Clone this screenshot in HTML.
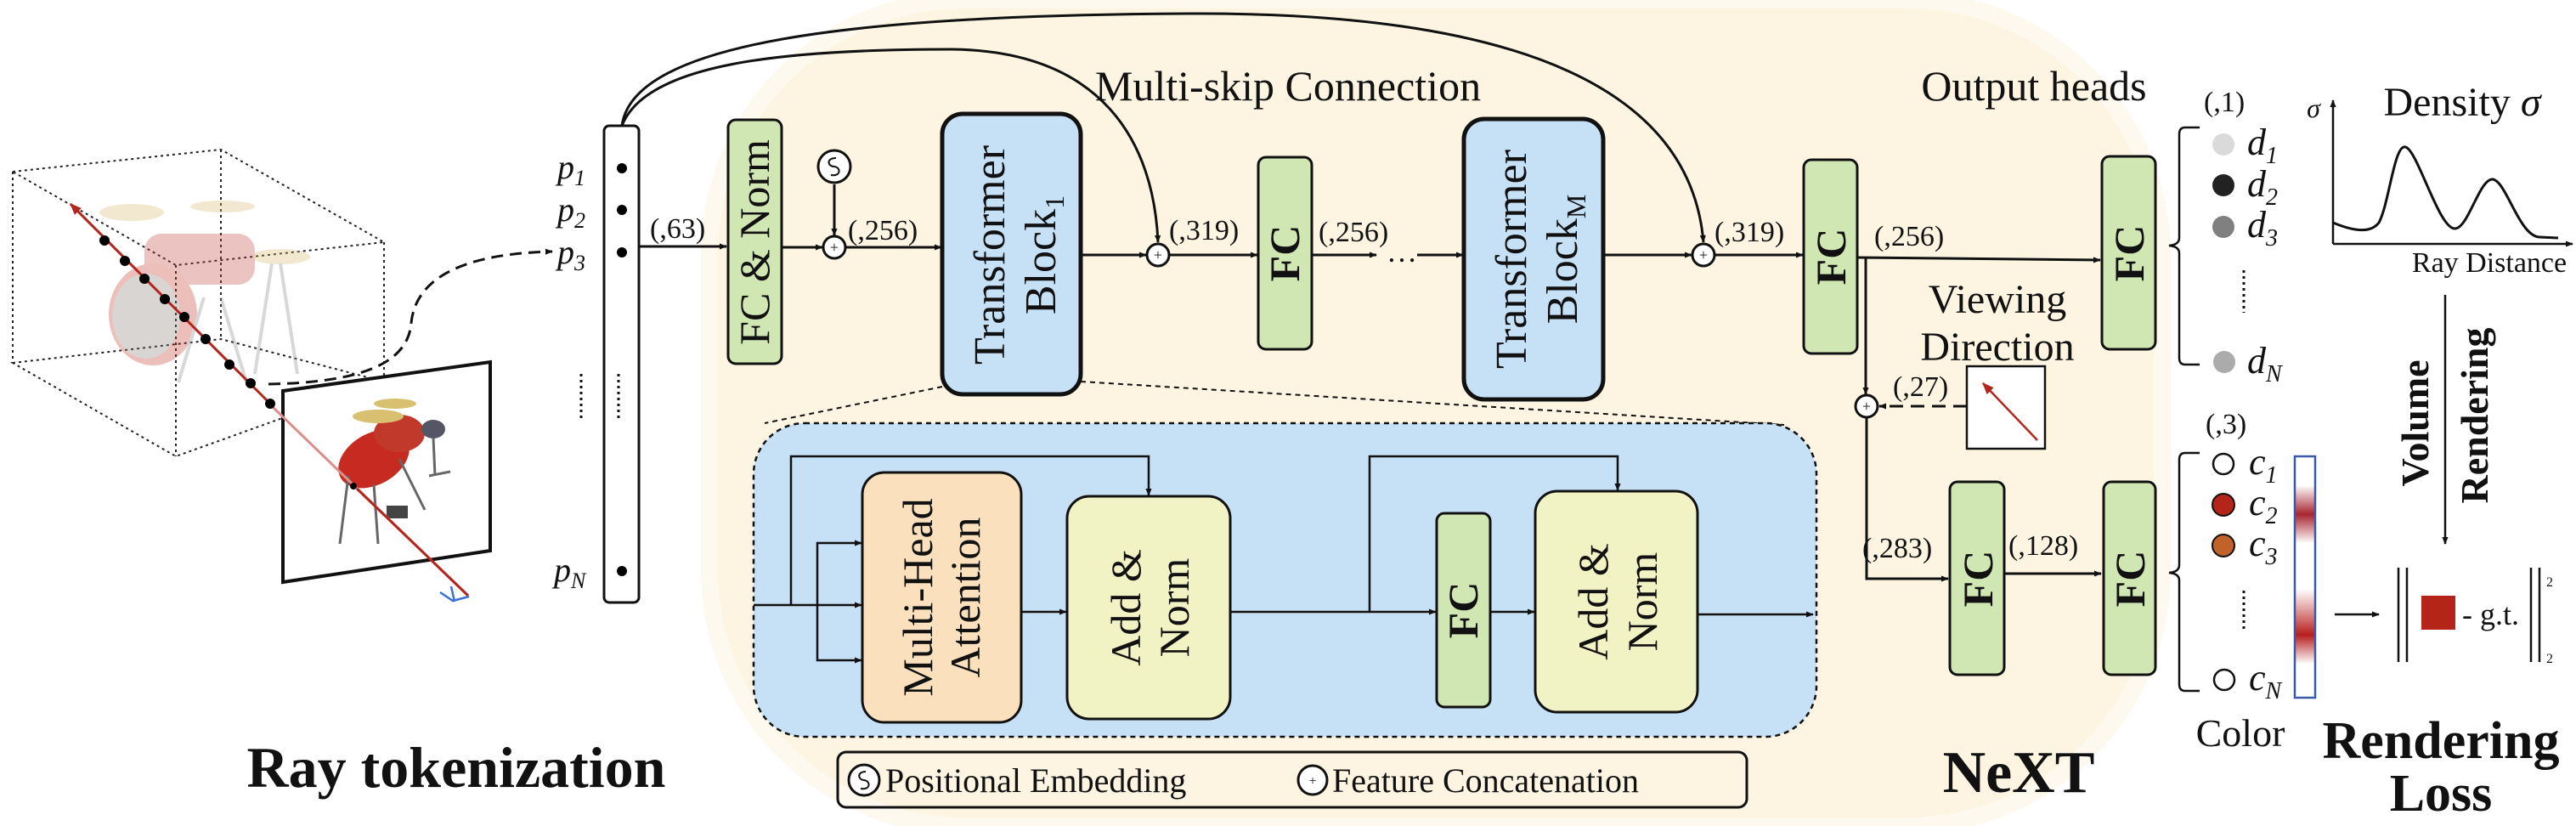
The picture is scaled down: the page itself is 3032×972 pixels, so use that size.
<!DOCTYPE html>
<html><head><meta charset="utf-8"><style>
html,body{margin:0;padding:0;background:#fff;overflow:hidden;width:3032px;height:972px;}
svg{display:block;}
text{font-family:"Liberation Serif",serif;fill:#111;}
.b{font-weight:bold;}
</style></head><body>
<svg width="3032" height="972" viewBox="0 0 3032 972" xmlns="http://www.w3.org/2000/svg">
<defs>
<marker id="ar" viewBox="0 0 10 10" refX="9" refY="5" markerWidth="9" markerHeight="9" orient="auto" markerUnits="userSpaceOnUse"><path d="M0,1 L10,5 L0,9 z" fill="#111"/></marker>
<marker id="arr" viewBox="0 0 10 10" refX="9" refY="5" markerWidth="14" markerHeight="14" orient="auto" markerUnits="userSpaceOnUse"><path d="M0,1 L10,5 L0,9 z" fill="#b3261e"/></marker>
<linearGradient id="cbar" x1="0" y1="0" x2="0" y2="1">
<stop offset="0" stop-color="#fff"/><stop offset="0.12" stop-color="#fff"/><stop offset="0.24" stop-color="#a82430"/><stop offset="0.36" stop-color="#fff"/><stop offset="0.55" stop-color="#fff"/><stop offset="0.62" stop-color="#e8b0b0"/><stop offset="0.74" stop-color="#b81e1e"/><stop offset="0.86" stop-color="#fff"/><stop offset="1" stop-color="#fff"/>
</linearGradient>
</defs>

<rect x="835" y="0" width="1710" height="972" rx="300" fill="#fdf5e2" stroke="#fef9ee" stroke-width="20"/>

<g stroke="#222" stroke-width="2" stroke-dasharray="3,4" fill="none">
<path d="M15,202 L260,176 L452,285 L207,312 Z"/>
<path d="M15,427 L260,399 L452,449 L207,537 Z"/>
<path d="M15,202 L15,427 M260,176 L260,399 M452,285 L452,449 M207,312 L207,537"/>
</g>
<g opacity="0.32">
<ellipse cx="155" cy="250" rx="38" ry="10" fill="#d8b970"/>
<ellipse cx="262" cy="243" rx="38" ry="7" fill="#d8b970"/>
<ellipse cx="330" cy="302" rx="35" ry="9" fill="#d8b970"/>
<rect x="170" y="275" width="130" height="60" rx="20" fill="#c44a40"/>
<ellipse cx="180" cy="370" rx="52" ry="60" fill="#c63a30"/>
<ellipse cx="172" cy="372" rx="40" ry="50" fill="#8a8078"/>
<path d="M240,350 L210,450 M260,350 L290,450 M320,310 L300,440 M330,310 L350,440" stroke="#888" stroke-width="4"/>
</g>
<path d="M333,460 L577,426 L577,648 L333,685 Z" fill="#fff" stroke="#111" stroke-width="4"/>
<g>
<ellipse cx="440" cy="540" rx="45" ry="30" fill="#c62a20" transform="rotate(-30 440 540)"/>
<ellipse cx="470" cy="510" rx="30" ry="22" fill="#c0392b"/>
<ellipse cx="445" cy="490" rx="30" ry="8" fill="#d8c070"/>
<ellipse cx="465" cy="475" rx="25" ry="6" fill="#d8c070"/>
<ellipse cx="510" cy="505" rx="14" ry="11" fill="#556"/>
<path d="M410,560 L400,640 M440,570 L445,640 M470,540 L500,600 M510,515 L512,560 M505,560 L530,555" stroke="#666" stroke-width="3"/>
<rect x="455" y="595" width="25" height="15" fill="#444"/>
</g>
<line x1="551" y1="701" x2="320" y2="478" stroke="#d9908a" stroke-width="3"/>
<line x1="318" y1="475" x2="83" y2="240" stroke="#b3261e" stroke-width="3" marker-end="url(#arr)"/>
<line x1="551" y1="701" x2="420" y2="575" stroke="#b3261e" stroke-width="3"/>
<g fill="#000">
<circle cx="123" cy="283" r="6"/><circle cx="147" cy="307" r="6"/><circle cx="170" cy="328" r="6"/><circle cx="194" cy="352" r="6"/><circle cx="217" cy="373" r="6"/><circle cx="242" cy="399" r="6"/><circle cx="270" cy="429" r="6"/><circle cx="295" cy="451" r="6"/><circle cx="318" cy="475" r="6"/><circle cx="416" cy="572" r="4"/>
</g>
<path d="M518,697 L533,707 L552,702 M531,690 L535,708" stroke="#3a6fd8" stroke-width="2.5" fill="none"/>
<path d="M316,452 C420,450 480,430 484,380 C490,320 560,298 650,296" stroke="#111" stroke-width="3" stroke-dasharray="14,8" fill="none" marker-end="url(#ar)"/>

<rect x="711" y="148" width="41" height="561" rx="6" fill="#fff" stroke="#111" stroke-width="3"/>
<g fill="#000"><circle cx="732" cy="198" r="6"/><circle cx="732" cy="247" r="6"/><circle cx="732" cy="297" r="6"/><circle cx="732" cy="672" r="6"/></g>
<g stroke="#111" stroke-width="3" stroke-dasharray="3,4"><line x1="728" y1="440" x2="728" y2="493"/><line x1="684" y1="440" x2="684" y2="493"/></g>
<g font-style="italic" font-size="40">
<text x="656" y="210">p<tspan font-size="26" dy="8">1</tspan></text>
<text x="656" y="260">p<tspan font-size="26" dy="8">2</tspan></text>
<text x="656" y="310">p<tspan font-size="26" dy="8">3</tspan></text>
<text x="652" y="684">p<tspan font-size="26" dy="8">N</tspan></text>
</g>

<path d="M732,148 C745,50 1000,18 1400,16 C1800,14 1990,110 2005,285" stroke="#111" stroke-width="3" fill="none" marker-end="url(#ar)"/>
<path d="M732,148 C760,75 920,58 1120,58 C1300,60 1358,170 1363,285" stroke="#111" stroke-width="3" fill="none" marker-end="url(#ar)"/>
<text x="1516" y="118" font-size="50" text-anchor="middle">Multi-skip Connection</text>
<text x="2394" y="118" font-size="50" text-anchor="middle">Output heads</text>

<g stroke="#111" stroke-width="3" fill="none" marker-end="url(#ar)">
<line x1="752" y1="290" x2="855" y2="290"/>
<line x1="920" y1="291" x2="968" y2="291"/>
<line x1="982" y1="217" x2="982" y2="277"/>
<line x1="996" y1="291" x2="1108" y2="291"/>
<line x1="1272" y1="300" x2="1349" y2="300"/>
<line x1="1377" y1="300" x2="1480" y2="300"/>
<line x1="1544" y1="300" x2="1620" y2="300"/>
<line x1="1668" y1="300" x2="1722" y2="300"/>
<line x1="1887" y1="300" x2="1991" y2="300"/>
<line x1="2019" y1="300" x2="2122" y2="300"/>
<line x1="2186" y1="303" x2="2472" y2="306"/>
<line x1="2196" y1="303" x2="2196" y2="464"/>
<line x1="2315" y1="478" x2="2212" y2="478" stroke-dasharray="16,9"/>
<line x1="2359" y1="675" x2="2473" y2="675"/>
</g>
<polyline points="2197,492 2197,681 2293,681" stroke="#111" stroke-width="3" fill="none" marker-end="url(#ar)"/>
<text x="1650" y="308" font-size="36" text-anchor="middle">…</text>
<g font-size="34">
<text x="765" y="280">(,63)</text>
<text x="998" y="282">(,256)</text>
<text x="1376" y="282">(,319)</text>
<text x="1552" y="284">(,256)</text>
<text x="2018" y="284">(,319)</text>
<text x="2206" y="289">(,256)</text>
<text x="2228" y="466">(,27)</text>
<text x="2192" y="656">(,283)</text>
<text x="2364" y="653">(,128)</text>
<text x="2594" y="131">(,1)</text>
<text x="2596" y="510">(,3)</text>
</g>

<g stroke="#111" stroke-width="3" fill="#fff">
<circle cx="982" cy="196" r="19"/>
<circle cx="982" cy="291" r="13"/>
<circle cx="1363" cy="300" r="13"/>
<circle cx="2005" cy="300" r="13"/>
<circle cx="2197" cy="478" r="13"/>
</g>
<g font-size="18" text-anchor="middle" font-family="Liberation Sans,sans-serif">
<text x="982" y="297">+</text><text x="1363" y="306">+</text><text x="2005" y="306">+</text><text x="2197" y="484">+</text>
</g>
<path d="M984,186 C972,186 974,196 982,196 C990,197 990,208 978,206" stroke="#111" stroke-width="2" fill="none"/>

<rect x="857" y="141" width="63" height="287" rx="9" fill="#d0e6b3" stroke="#111" stroke-width="3"/>
<text transform="translate(905,285) rotate(-90)" font-size="50" text-anchor="middle">FC &amp; Norm</text>
<rect x="1109" y="134" width="163" height="330" rx="24" fill="#c6e0f6" stroke="#111" stroke-width="5"/>
<text transform="translate(1182,300) rotate(-90)" font-size="52" text-anchor="middle">Transformer</text>
<text transform="translate(1242,300) rotate(-90)" font-size="52" text-anchor="middle">Block<tspan font-size="32" dy="10">1</tspan></text>
<rect x="1723" y="140" width="164" height="330" rx="24" fill="#c6e0f6" stroke="#111" stroke-width="5"/>
<text transform="translate(1796,305) rotate(-90)" font-size="52" text-anchor="middle">Transformer</text>
<text transform="translate(1856,305) rotate(-90)" font-size="52" text-anchor="middle">Block<tspan font-size="32" dy="10">M</tspan></text>
<g fill="#d0e6b3" stroke="#111" stroke-width="3">
<rect x="1481" y="185" width="63" height="226" rx="9"/>
<rect x="2123" y="188" width="63" height="228" rx="9"/>
<rect x="2474" y="184" width="63" height="227" rx="9"/>
<rect x="2295" y="567" width="64" height="227" rx="9"/>
<rect x="2476" y="567" width="61" height="227" rx="9"/>
</g>
<g font-size="50" text-anchor="middle">
<text class="b" transform="translate(1529,298) rotate(-90)">FC</text>
<text class="b" transform="translate(2172,302) rotate(-90)">FC</text>
<text class="b" transform="translate(2523,298) rotate(-90)">FC</text>
<text class="b" transform="translate(2345,681) rotate(-90)">FC</text>
<text class="b" transform="translate(2524,681) rotate(-90)">FC</text>
</g>

<g stroke="#111" stroke-width="2" stroke-dasharray="6,5" fill="none">
<line x1="1109" y1="455" x2="900" y2="498"/>
<line x1="1272" y1="449" x2="2100" y2="500"/>
</g>
<rect x="887" y="498" width="1251" height="369" rx="60" fill="#c6e0f6" stroke="#111" stroke-width="2.5" stroke-dasharray="6,5"/>
<rect x="1015" y="556" width="187" height="294" rx="26" fill="#fbe0bd" stroke="#111" stroke-width="3"/>
<text transform="translate(1097,703) rotate(-90)" font-size="50" text-anchor="middle">Multi-Head</text>
<text transform="translate(1153,703) rotate(-90)" font-size="50" text-anchor="middle">Attention</text>
<rect x="1256" y="584" width="192" height="262" rx="26" fill="#f2f3c4" stroke="#111" stroke-width="3"/>
<text transform="translate(1342,715) rotate(-90)" font-size="50" text-anchor="middle">Add &amp;</text>
<text transform="translate(1399,715) rotate(-90)" font-size="50" text-anchor="middle">Norm</text>
<rect x="1691" y="604" width="63" height="228" rx="9" fill="#d0e6b3" stroke="#111" stroke-width="3"/>
<text class="b" transform="translate(1739,718) rotate(-90)" font-size="50" text-anchor="middle">FC</text>
<rect x="1807" y="578" width="191" height="260" rx="26" fill="#f2f3c4" stroke="#111" stroke-width="3"/>
<text transform="translate(1892,708) rotate(-90)" font-size="50" text-anchor="middle">Add &amp;</text>
<text transform="translate(1950,708) rotate(-90)" font-size="50" text-anchor="middle">Norm</text>
<g stroke="#111" stroke-width="2.5" fill="none" marker-end="url(#ar)">
<line x1="887" y1="712" x2="1014" y2="712"/>
<polyline points="962,712 962,639 1014,639"/>
<polyline points="962,712 962,777 1014,777"/>
<polyline points="931,712 931,537 1352,537 1352,583"/>
<line x1="1202" y1="720" x2="1255" y2="720"/>
<line x1="1448" y1="720" x2="1690" y2="720"/>
<polyline points="1612,720 1612,537 1904,537 1904,577"/>
<line x1="1754" y1="720" x2="1806" y2="720"/>
<line x1="1998" y1="723" x2="2134" y2="723"/>
</g>
<rect x="986" y="885" width="1070" height="65" rx="10" fill="none" stroke="#111" stroke-width="3"/>
<circle cx="1017" cy="918" r="18" stroke="#111" stroke-width="3" fill="#fff"/>
<path d="M1019,908 C1008,908 1010,918 1017,918 C1025,919 1025,930 1013,928" stroke="#111" stroke-width="2" fill="none"/>
<text x="1042" y="932" font-size="40">Positional Embedding</text>
<circle cx="1545" cy="918" r="17" stroke="#111" stroke-width="3" fill="#fff"/>
<text x="1545" y="924" font-size="16" text-anchor="middle" font-family="Liberation Sans,sans-serif">+</text>
<text x="1568" y="932" font-size="40">Feature Concatenation</text>

<text x="2351" y="368" font-size="48" text-anchor="middle">Viewing</text>
<text x="2351" y="424" font-size="48" text-anchor="middle">Direction</text>
<rect x="2315" y="431" width="92" height="97" fill="#fff" stroke="#111" stroke-width="2.5"/>
<line x1="2398" y1="518" x2="2334" y2="451" stroke="#b3261e" stroke-width="2.5" marker-end="url(#arr)"/>

<g stroke="#111" stroke-width="2.5" fill="none">
<path d="M2589,150 L2572,150 Q2565,150 2565,158 L2565,280 Q2565,288 2553,289 Q2565,290 2565,298 L2565,421 Q2565,429 2572,429 L2589,429"/>
<path d="M2589,533 L2572,533 Q2565,533 2565,541 L2565,665 Q2565,673 2553,674 Q2565,675 2565,683 L2565,805 Q2565,813 2572,813 L2589,813"/>
</g>
<circle cx="2617" cy="170" r="13" fill="#dadada"/>
<circle cx="2617" cy="218" r="13" fill="#222"/>
<circle cx="2617" cy="267" r="13" fill="#808080"/>
<circle cx="2618" cy="426" r="13" fill="#ababab"/>
<g font-style="italic" font-size="44">
<text x="2645" y="182">d<tspan font-size="28" dy="10">1</tspan></text>
<text x="2645" y="231">d<tspan font-size="28" dy="10">2</tspan></text>
<text x="2645" y="279">d<tspan font-size="28" dy="10">3</tspan></text>
<text x="2645" y="439">d<tspan font-size="28" dy="10">N</tspan></text>
<text x="2647" y="558">c<tspan font-size="28" dy="10">1</tspan></text>
<text x="2647" y="606">c<tspan font-size="28" dy="10">2</tspan></text>
<text x="2647" y="654">c<tspan font-size="28" dy="10">3</tspan></text>
<text x="2647" y="812">c<tspan font-size="28" dy="10">N</tspan></text>
</g>
<g stroke="#111" stroke-width="3" stroke-dasharray="3,4"><line x1="2641" y1="318" x2="2641" y2="368"/><line x1="2641" y1="695" x2="2641" y2="741"/></g>
<circle cx="2617" cy="546" r="12" fill="#fff" stroke="#111" stroke-width="2.5"/>
<circle cx="2617" cy="594" r="13" fill="#b52419" stroke="#111" stroke-width="2"/>
<circle cx="2617" cy="642" r="13" fill="#c0622a" stroke="#111" stroke-width="2"/>
<circle cx="2618" cy="800" r="12" fill="#fff" stroke="#111" stroke-width="2.5"/>
<rect x="2701" y="537" width="24" height="284" fill="url(#cbar)" stroke="#3a5aa8" stroke-width="2.5"/>
<text x="2637" y="878" font-size="46" text-anchor="middle">Color</text>

<line x1="2746" y1="287" x2="2746" y2="118" stroke="#111" stroke-width="2.5" marker-end="url(#ar)"/>
<line x1="2746" y1="287" x2="3028" y2="287" stroke="#111" stroke-width="2.5" marker-end="url(#ar)"/>
<text x="2723" y="138" font-size="32" font-style="italic" text-anchor="middle">σ</text>
<text x="2898" y="136" font-size="48" text-anchor="middle">Density <tspan font-style="italic">σ</tspan></text>
<path d="M2746,262 C2770,272 2790,275 2800,262 C2812,240 2818,170 2831,173 C2845,175 2870,268 2889,269 C2905,270 2918,210 2934,211 C2950,213 2965,278 2989,279 L3011,280" stroke="#111" stroke-width="3" fill="none"/>
<text x="2930" y="320" font-size="34" text-anchor="middle">Ray Distance</text>

<line x1="2878" y1="347" x2="2878" y2="640" stroke="#111" stroke-width="2.5" marker-end="url(#ar)"/>
<text class="b" transform="translate(2858,498) rotate(-90)" font-size="46" text-anchor="middle">Volume</text>
<text class="b" transform="translate(2928,489) rotate(-90)" font-size="46" text-anchor="middle">Rendering</text>

<line x1="2748" y1="723" x2="2800" y2="723" stroke="#111" stroke-width="2.5" marker-end="url(#ar)"/>
<g stroke="#111" stroke-width="2.5"><line x1="2823" y1="668" x2="2823" y2="779"/><line x1="2833" y1="668" x2="2833" y2="779"/><line x1="2979" y1="668" x2="2979" y2="779"/><line x1="2989" y1="668" x2="2989" y2="779"/></g>
<rect x="2850" y="701" width="40" height="40" fill="#b52419"/>
<text x="2898" y="735" font-size="36">- g.t.</text>
<text x="2997" y="690" font-size="16">2</text>
<text x="2997" y="780" font-size="16">2</text>

<text class="b" x="537" y="926" font-size="68" text-anchor="middle">Ray tokenization</text>
<text class="b" x="2376" y="932" font-size="70" text-anchor="middle">NeXT</text>
<text class="b" x="2873" y="892" font-size="62" text-anchor="middle">Rendering</text>
<text class="b" x="2873" y="954" font-size="62" text-anchor="middle">Loss</text>
</svg>
</body></html>
